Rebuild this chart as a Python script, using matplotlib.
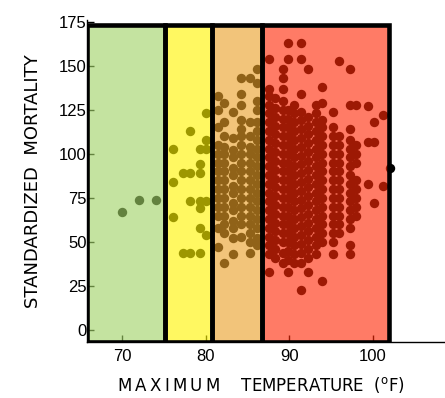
import matplotlib
matplotlib.use("Agg")
import matplotlib.pyplot as plt
from matplotlib.patches import Rectangle

# ---- data ----
col_temps = [70, 72, 74,
             76.1, 77.3, 78.1, 79.3, 80.0,
             81.5, 82.2, 83.3, 84.2, 85.3, 86.1,
             87.5, 88.3, 89.2, 89.8, 90.6, 91.4, 92.2, 93.2, 93.9,
             95.2, 95.9, 97.2, 98.0, 99.4, 100.1, 101.2, 102.0]
col_mortality = [
    [67], [74], [74],
    [64, 84, 103],
    [44, 89],
    [44, 73, 89, 113],
    [44, 58, 69, 73, 89, 94, 103],
    [54, 73, 103, 108, 123],
    [47, 58, 65, 70, 75, 80, 85, 90, 95, 100, 105, 115, 125, 133],
    [38, 55, 60, 65, 70, 75, 80, 85, 90, 95, 100, 104, 110, 118, 129],
    [43, 52, 58, 62, 68, 72, 78, 82, 88, 92, 98, 102, 109, 124],
    [53, 60, 65, 70, 75, 80, 85, 90, 95, 100, 105, 110, 114, 119, 128, 134, 143],
    [44, 50, 55, 60, 65, 70, 75, 80, 85, 90, 95, 100, 104, 110, 118, 143],
    [48, 52, 58, 63, 68, 73, 78, 83, 88, 93, 98, 103, 108, 113, 118, 125, 130, 140, 148],
    [33, 43, 48, 53, 58, 63, 68, 73, 78, 83, 88, 93, 98, 103, 108, 113, 118, 123, 128, 133, 137, 154],
    [41, 46, 51, 56, 61, 66, 71, 76, 81, 86, 91, 96, 101, 106, 111, 116, 121, 126, 132],
    [38, 44, 50, 55, 60, 65, 70, 75, 80, 85, 90, 95, 100, 105, 110, 115, 120, 125, 130, 137, 143, 148],
    [33, 40, 45, 50, 55, 60, 65, 70, 75, 80, 85, 90, 95, 100, 105, 110, 115, 120, 125, 154, 163],
    [38, 43, 48, 53, 58, 63, 68, 73, 78, 83, 88, 93, 98, 103, 108, 113, 118, 123, 128],
    [23, 38, 44, 49, 54, 59, 64, 69, 74, 79, 84, 89, 94, 99, 104, 109, 114, 119, 124, 134, 154, 163],
    [33, 41, 46, 51, 56, 61, 66, 71, 76, 81, 86, 91, 96, 101, 106, 111, 116, 121, 148],
    [43, 48, 53, 58, 63, 68, 73, 78, 83, 88, 93, 98, 103, 108, 113, 118, 123, 128],
    [28, 50, 55, 60, 65, 70, 75, 80, 85, 90, 95, 100, 105, 110, 115, 119, 129, 138],
    [43, 50, 55, 60, 65, 70, 75, 80, 85, 90, 95, 100, 105, 110, 115, 124],
    [55, 60, 65, 70, 75, 80, 85, 90, 95, 100, 105, 110, 153],
    [43, 48, 58, 63, 68, 73, 78, 83, 88, 93, 98, 103, 108, 114, 128, 148],
    [65, 70, 75, 80, 85, 95, 100, 105, 128],
    [83, 107, 127],
    [72, 107, 118],
    [82, 122],
    [92],
]

zone_edges = [65.8, 75.1, 80.8, 86.7, 101.9]
zone_colors = ["#a1d366", "#fff500", "#eaa028", "#ff2a08"]
zone_top = 173

x_ticks = [70, 80, 90, 100]
y_ticks = [0, 25, 50, 75, 100, 125, 150, 175]

# ---- figure ----
fig = plt.figure(figsize=(4.45, 3.98), dpi=100)
ax = fig.add_axes([87/445, 1 - 342/398, (445 - 87)/445, (342 - 20)/398])
ax.set_xlim(65.8, 108.6)
ax.set_ylim(-6.8, 176)

xs, ys = [], []
for t, vals in zip(col_temps, col_mortality):
    for v in vals:
        xs.append(t)
        ys.append(v)
ax.scatter(xs, ys, s=46, color="black", linewidths=0, zorder=2)

ymin = ax.get_ylim()[0]
for i, c in enumerate(zone_colors):
    x0, x1 = zone_edges[i], zone_edges[i + 1]
    ax.add_patch(Rectangle((x0, ymin), x1 - x0, zone_top - ymin,
                           facecolor=c, edgecolor="none", alpha=0.62, zorder=3))
    ax.add_patch(Rectangle((x0, ymin), x1 - x0, zone_top - ymin,
                           facecolor="none", edgecolor="black", linewidth=3.3,
                           zorder=4, joinstyle="miter"))

ax.set_axisbelow(True)
for s in ["top", "right"]:
    ax.spines[s].set_visible(False)
ax.spines["left"].set_linewidth(1.0)
ax.spines["bottom"].set_linewidth(1.0)

ax.set_xticks(x_ticks)
ax.set_yticks(y_ticks)
ax.tick_params(axis="both", direction="in", length=5, width=1, labelsize=12)
ax.tick_params(axis="x", pad=5)
ax.tick_params(axis="y", pad=0)
for lab in ax.get_xticklabels() + ax.get_yticklabels():
    lab.set_family("Liberation Sans")

ts = "\u2009"
xlabel = ts.join("MAXIMUM") + "    TEMPERATURE  ($^{\\mathregular{o}}$F)"
ax.set_xlabel(xlabel, fontsize=12, family="DejaVu Sans", labelpad=9)
ax.xaxis.set_label_coords(0.485, -0.103)
ax.set_ylabel("STANDARDIZED  MORTALITY", fontsize=13, family="DejaVu Sans",
              labelpad=12)

fig.savefig("out.png", dpi=100)
